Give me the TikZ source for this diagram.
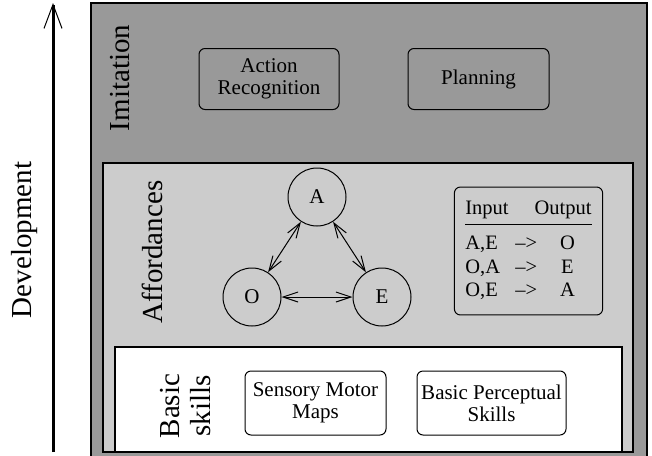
\documentclass[tikz,border=0pt]{standalone}
\usepackage{fontspec}
\setmainfont{Liberation Serif}
\usetikzlibrary{arrows.meta,positioning}
\definecolor{darkfill}{gray}{0.6}
\definecolor{lightfill}{gray}{0.8}
\tikzset{node distance=130pt, auto,
  layer/.style={draw, line width=1.2pt},
  skillbox/.style={draw, rounded corners=6pt, line width=1pt, align=center,
    minimum height=61pt, inner sep=0pt, font=\fontsize{21}{22}\selectfont},
  stage/.style={rotate=90, align=center, font=\fontsize{29}{31}\selectfont},
  afford/.style={draw, circle, line width=1pt, minimum size=58pt, inner sep=0pt,
    font=\fontsize{21}{22}\selectfont},
  link/.style={{Straight Barb[length=15pt,width=10pt]}-{Straight Barb[length=15pt,width=10pt]},
    line width=1pt}
}

\begin{document}
\begin{tikzpicture}[x=1pt,y=-1pt]
                \useasboundingbox (0,0) rectangle (652,455);
                % the three levels, outermost first
                \fill[darkfill] (91,3) rectangle (647,460);
                \draw[layer] (91,460) -- (91,3) -- (647,3) -- (647,460);
                \filldraw[layer, fill=lightfill] (103,163) rectangle (633,452);
                \filldraw[layer, fill=white] (115,347) rectangle (622,452);

                \coordinate (devbase) at (53,452);
                \coordinate (devtip)  at (53,3);
                \draw[line width=3pt, -{Straight Barb[length=24pt,width=18pt,line width=1pt]}] (devbase) -- (devtip);
                \node (dev) [stage] at (25,240) {Development};

                % imitation
                \node (imit)  [stage] at (120,78) {Imitation};
                \node (actrec) [skillbox, minimum width=140pt] at (269,79) {Action\\Recognition};
                \node (plan)  [skillbox, minimum width=141pt] at (478.5,79) {Planning};

                % affordances
                \node (aff) [stage] at (152,252) {Affordances};
                \node (O) [afford] at (252,297) {O};
                \node (E) [afford, right of=O] {E};
                \node (A) [afford] at (317,197) {A};
                \draw[link] (A) -- (O);
                \draw[link] (A) -- (E);
                \draw[link] (O) -- (E);
                \node (io) [draw, rounded corners=6pt, line width=1pt, inner sep=11pt,
                  minimum height=116pt, font=\fontsize{20.5}{23.5}\selectfont] at (528.5,251)
                  {\begin{tabular}{@{}p{50pt}@{}p{28pt}@{}c@{}}
                     \multicolumn{3}{@{}l@{}}{Input\hspace{26pt}Output}\\[2pt]\hline
                     \rule{0pt}{26pt}A,E & --> & O\\
                     O,A & --> & E\\
                     O,E & --> & A
                   \end{tabular}};

                % basic skills
                \node (basic) [stage] at (186,406) {Basic\\skills};
                \node (sensmot) [skillbox, minimum width=141pt, minimum height=64pt] at (315.5,403) {Sensory Motor\\Maps};
                \node (percep) [skillbox, minimum width=149pt, minimum height=64pt] at (491.5,403) {Basic Perceptual\\Skills};
              \end{tikzpicture}
\end{document}
